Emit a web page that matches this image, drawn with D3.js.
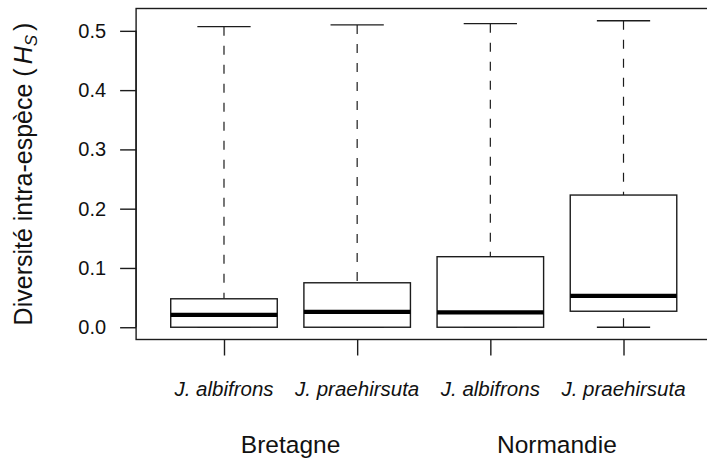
<!DOCTYPE html>
<html>
<head>
<meta charset="utf-8">
<script src="https://cdn.jsdelivr.net/npm/d3@7"></script>
<style>
  html, body { margin: 0; padding: 0; background: #fff; }
  svg { display: block; font-family: "Liberation Sans", Arial, Helvetica, sans-serif; }
</style>
</head>
<body>
<svg id="chart" width="707" height="463"></svg>
<script>
// Species within each region
const categories = ["J. albifrons", "J. praehirsuta", "J. albifrons", "J. praehirsuta"];
const regions = ["Bretagne", "Normandie"];

// Five-number summaries of H_S per group
const lowerWhisker = [0.000, 0.000, 0.000, 0.000];
const q1 = [0.000, 0.000, 0.000, 0.027];
const median = [0.021, 0.026, 0.025, 0.053];
const q3 = [0.048, 0.075, 0.119, 0.223];
const upperWhisker = [0.507, 0.510, 0.512, 0.517];

const yTicks = [0.0, 0.1, 0.2, 0.3, 0.4, 0.5];
const yTickLabels = ["0.0", "0.1", "0.2", "0.3", "0.4", "0.5"];

const svg = d3.select("#chart");
const ink = "#1c1c1c";
const fontFamily = "Liberation Sans, Arial, sans-serif";

// Plot region, R-style 4% padding on both axes
const plot = { left: 136.1, right: 711.4, top: 8.5, bottom: 339.5 };
const xPadUnits = 0.04 * (categories.length);
const x = d3.scaleLinear()
  .domain([0.5 - xPadUnits, categories.length + 0.5 + xPadUnits])
  .range([plot.left, plot.right]);
const yMin = d3.min(lowerWhisker), yMax = d3.max(upperWhisker);
const yPad = 0.04 * (yMax - yMin);
const y = d3.scaleLinear()
  .domain([yMin - yPad, yMax + yPad])
  .range([plot.bottom, plot.top]);

const boxHalf = 0.4, capHalf = 0.2;

const groups = categories.map((c, i) => ({
  pos: i + 1, lo: lowerWhisker[i], q1: q1[i], med: median[i], q3: q3[i], hi: upperWhisker[i]
}));

const g = svg.append("g");

// Whiskers (dashed), drawn from the caps toward the box
g.selectAll(".whisker-up").data(groups).join("line")
  .attr("x1", d => x(d.pos)).attr("x2", d => x(d.pos))
  .attr("y1", d => y(d.hi)).attr("y2", d => y(d.q3))
  .attr("stroke", ink).attr("stroke-width", 1.2).attr("stroke-dasharray", "9,10");
g.selectAll(".whisker-lo").data(groups.filter(d => d.q1 > d.lo)).join("line")
  .attr("x1", d => x(d.pos)).attr("x2", d => x(d.pos))
  .attr("y1", d => y(d.lo)).attr("y2", d => y(d.q1))
  .attr("stroke", ink).attr("stroke-width", 1.2).attr("stroke-dasharray", "9,10");

// Caps
g.selectAll(".cap-hi").data(groups).join("line")
  .attr("x1", d => x(d.pos - capHalf)).attr("x2", d => x(d.pos + capHalf))
  .attr("y1", d => y(d.hi)).attr("y2", d => y(d.hi))
  .attr("stroke", ink).attr("stroke-width", 1.3);
g.selectAll(".cap-lo").data(groups).join("line")
  .attr("x1", d => x(d.pos - capHalf)).attr("x2", d => x(d.pos + capHalf))
  .attr("y1", d => y(d.lo)).attr("y2", d => y(d.lo))
  .attr("stroke", ink).attr("stroke-width", 1.3);

// Interquartile boxes
g.selectAll(".box").data(groups).join("rect")
  .attr("x", d => x(d.pos - boxHalf))
  .attr("width", d => x(d.pos + boxHalf) - x(d.pos - boxHalf))
  .attr("y", d => y(d.q3))
  .attr("height", d => y(d.q1) - y(d.q3))
  .attr("fill", "#fff").attr("stroke", ink).attr("stroke-width", 1.4);

// Medians
g.selectAll(".median").data(groups).join("line")
  .attr("x1", d => x(d.pos - boxHalf)).attr("x2", d => x(d.pos + boxHalf))
  .attr("y1", d => y(d.med)).attr("y2", d => y(d.med))
  .attr("stroke", "#000").attr("stroke-width", 4.2);

// Frame
svg.append("rect")
  .attr("x", plot.left).attr("y", plot.top)
  .attr("width", plot.right - plot.left).attr("height", plot.bottom - plot.top)
  .attr("fill", "none").attr("stroke", ink).attr("stroke-width", 1.4);

// Y axis
const yAxis = d3.axisLeft(y)
  .tickValues(yTicks)
  .tickFormat((d, i) => yTickLabels[i])
  .tickSize(16).tickPadding(14);
const ya = svg.append("g").attr("transform", `translate(${plot.left},0)`).call(yAxis);
ya.select(".domain").remove();
ya.append("line").attr("x1", 0).attr("x2", 0)
  .attr("y1", y(yTicks[0])).attr("y2", y(yTicks[yTicks.length - 1]))
  .attr("stroke", ink).attr("stroke-width", 1.4);
ya.selectAll(".tick line").attr("stroke", ink).attr("stroke-width", 1.4);
ya.selectAll(".tick text")
  .attr("fill", "#111").attr("font-size", 20)
  .attr("font-family", fontFamily);

// X axis ticks and species labels
const xa = svg.append("g").attr("transform", `translate(0,${plot.bottom})`)
  .call(d3.axisBottom(x).tickValues(groups.map(d => d.pos)).tickFormat(() => "").tickSize(16));
xa.select(".domain").remove();
xa.selectAll(".tick line").attr("stroke", ink).attr("stroke-width", 1.4);

svg.append("g").selectAll("text").data(categories).join("text")
  .attr("x", (d, i) => x(i + 1))
  .attr("y", 396)
  .attr("text-anchor", "middle")
  .attr("font-size", 20.5).attr("font-style", "italic").attr("fill", "#111")
  .text(d => d);

// Region labels, centered under each pair
svg.append("g").selectAll("text").data(regions).join("text")
  .attr("x", (d, i) => (x(2 * i + 1) + x(2 * i + 2)) / 2)
  .attr("y", 453)
  .attr("text-anchor", "middle")
  .attr("font-size", 24.5).attr("fill", "#111")
  .text(d => d);

// Y axis title
const yt = svg.append("text")
  .attr("transform", `translate(32,${(plot.top + plot.bottom) / 2}) rotate(-90)`)
  .attr("text-anchor", "middle")
  .attr("font-size", 25).attr("fill", "#111");
yt.append("tspan").text("Diversité intra-espèce (");
yt.append("tspan").attr("font-style", "italic").attr("dx", 4).text("H");
yt.append("tspan").attr("font-style", "italic").attr("font-size", 17).attr("dy", 5).text("S");
yt.append("tspan").attr("dy", -5).attr("dx", 4).text(")");
</script>
</body>
</html>
